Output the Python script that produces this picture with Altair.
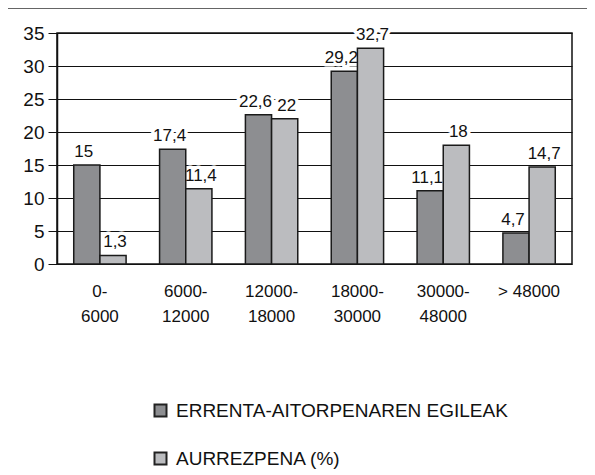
import altair as alt
import pandas as pd

categories = ["0-\n6000", "6000-\n12000", "12000-\n18000", "18000-\n30000", "30000-\n48000", "> 48000"]
series_names = ["ERRENTA-AITORPENAREN EGILEAK", "AURREZPENA (%)"]
egileak = [15, 17.4, 22.6, 29.2, 11.1, 4.7]
aurrezpena = [1.3, 11.4, 22, 32.7, 18, 14.7]
y_ticks = [0, 5, 10, 15, 20, 25, 30, 35]
colors = ["#8d8e91", "#bbbcbf"]

rows = []
for c, a, b in zip(categories, egileak, aurrezpena):
    rows.append({"cat": c, "series": series_names[0], "value": a})
    rows.append({"cat": c, "series": series_names[1], "value": b})
df = pd.DataFrame(rows)

REG = "Liberation Sans, Arial, sans-serif"

base = alt.Chart(df).transform_calculate(
    label="replace(toString(datum.value), '.', ',')"
).encode(
    x=alt.X(
        "cat:N",
        sort=categories,
        scale=alt.Scale(paddingInner=0.39, paddingOuter=0.195),
        axis=alt.Axis(
            title=None,
            labelExpr="split(datum.label, '\\n')",
            labelAngle=0,
            ticks=False,
            domain=False,
            grid=False,
            labelFont=REG,
            labelFontSize=17,
            labelLineHeight=25,
            labelPadding=32,
            labelColor="#111",
            labelBaseline="alphabetic",
        ),
    ),
    xOffset=alt.XOffset("series:N", sort=series_names),
    y=alt.Y(
        "value:Q",
        scale=alt.Scale(domain=[0, 35], nice=False),
        axis=alt.Axis(
            title=None,
            values=y_ticks,
            tickCount=8,
            labelOverlap=False,
            grid=True,
            gridColor="#111",
            gridWidth=1,
            domainColor="#111",
            domainWidth=1.5,
            tickColor="#111",
            tickSize=9,
            tickWidth=1,
            labelFont=REG,
            labelFontSize=19,
            labelPadding=4,
            labelColor="#111",
        ),
    ),
)

bars = base.mark_bar(stroke="#1a1a1a", strokeWidth=1.5).encode(
    color=alt.Color(
        "series:N",
        sort=series_names,
        scale=alt.Scale(domain=series_names, range=colors),
        legend=alt.Legend(
            title=None,
            orient="none",
            legendX=94,
            legendY=368,
            direction="vertical",
            symbolType="square",
            symbolSize=144,
            symbolStrokeWidth=2,
            symbolStrokeColor="#222",
            labelFont=REG,
            labelFontSize=19,
            labelColor="#111",
            labelOffset=6,
            rowPadding=27,
            padding=0,
            labelLimit=500,
        ),
    ),
)


def text_layer(series, dx, halo):
    props = dict(baseline="alphabetic", dy=-8, dx=dx, font=REG, fontSize=17)
    if halo:
        props.update(fill="white", stroke="white", strokeWidth=7, strokeJoin="round")
    else:
        props.update(fill="#111")
    return base.transform_filter(alt.datum.series == series).mark_text(**props).encode(
        text="label:N"
    )


halos = [text_layer(series_names[0], -3, True), text_layer(series_names[1], 2, True)]
labels = [text_layer(series_names[0], -3, False), text_layer(series_names[1], 2, False)]

frame = alt.Chart(pd.DataFrame({"f": [0]})).mark_rect(
    fill="transparent", stroke="#333", strokeWidth=1.5
).encode(
    x=alt.value(-50), x2=alt.value(700), y=alt.value(-25), y2=alt.value(700)
)

chart = alt.layer(frame, *halos, bars, *labels).properties(
    width=515,
    height=231,
    autosize=alt.AutoSizeParams(type="none"),
    padding={"left": 49, "top": 25, "right": 15, "bottom": 207},
    background="white",
).configure_view(stroke="#111", strokeWidth=1.5)

chart.save("out.html", embed_options={"renderer": "svg", "actions": False})
